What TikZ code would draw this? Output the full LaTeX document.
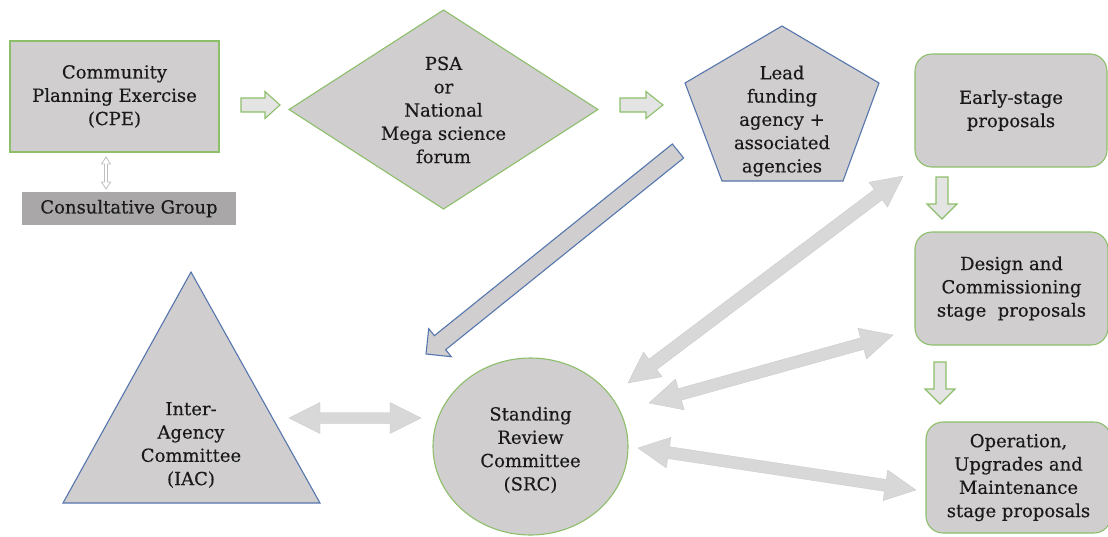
\documentclass[tikz,border=0pt]{standalone}
\usepackage{fontspec}
\setmainfont{DejaVu Serif}
\newfontface\diafont{DejaVu Serif}[FakeBold=0.35]
\usetikzlibrary{shapes.geometric}
\definecolor{boxgray}{HTML}{D0CECE}
\definecolor{cggray}{HTML}{A9A7A7}
\definecolor{arrgray}{HTML}{D8D8D8}
\definecolor{lightfill}{HTML}{E4E4E4}
\definecolor{bordergreen}{HTML}{8DBF6B}
\definecolor{borderblue}{HTML}{5676AE}
\definecolor{txt}{HTML}{1A1A1A}
% #1 style, #2 from, #3 to, #4 half shaft, #5 half head, #6 head length
\newcommand\myarrow[6]{%
  \pgfpointanchor{#2}{center}\pgfgetlastxy\BAxa\BAya
  \pgfpointanchor{#3}{center}\pgfgetlastxy\BAxb\BAyb
  \pgfmathsetmacro\BAa{atan2(\BAyb-\BAya,\BAxb-\BAxa)}%
  \pgfmathsetmacro\BAl{veclen(\BAxb-\BAxa,\BAyb-\BAya)}%
  \begin{scope}[shift={(\BAxa,\BAya)},rotate=\BAa]
    \draw[#1] (0pt,-#4pt) -- (\BAl pt-#6pt,-#4pt) -- (\BAl pt-#6pt,-#5pt) -- (\BAl pt,0pt)
      -- (\BAl pt-#6pt,#5pt) -- (\BAl pt-#6pt,#4pt) -- (0pt,#4pt) -- cycle;
  \end{scope}}
\newcommand\mydarrow[6]{%
  \pgfpointanchor{#2}{center}\pgfgetlastxy\BAxa\BAya
  \pgfpointanchor{#3}{center}\pgfgetlastxy\BAxb\BAyb
  \pgfmathsetmacro\BAa{atan2(\BAyb-\BAya,\BAxb-\BAxa)}%
  \pgfmathsetmacro\BAl{veclen(\BAxb-\BAxa,\BAyb-\BAya)}%
  \begin{scope}[shift={(\BAxa,\BAya)},rotate=\BAa]
    \draw[#1] (0pt,0pt) -- (#6pt,-#5pt) -- (#6pt,-#4pt) -- (\BAl pt-#6pt,-#4pt) -- (\BAl pt-#6pt,-#5pt) -- (\BAl pt,0pt)
      -- (\BAl pt-#6pt,#5pt) -- (\BAl pt-#6pt,#4pt) -- (#6pt,#4pt) -- (#6pt,#5pt) -- cycle;
  \end{scope}}
\tikzset{
  lbl/.style={align=center, text=txt, font=\diafont\fontsize{18}{23.3}\selectfont, inner sep=0pt},
  shp/.style={fill=boxgray, line width=1.1pt},
  gbox/.style={shp, draw=bordergreen, lbl},
  rbox/.style={gbox, rounded corners=17pt},
  greenarr/.style={fill=lightfill, draw=bordergreen, line width=1.1pt, line join=miter},
  grayarr/.style={fill=arrgray, draw=arrgray!92!black, line width=0.3pt},
  bluearr/.style={fill=boxgray, draw=borderblue, line width=1.1pt, line join=miter},
}
\begin{document}
\begin{tikzpicture}[x=1pt,y=-1pt]
\useasboundingbox (0,0) rectangle (1108,536);
% top row
\node[gbox, minimum width=209pt, minimum height=111pt] (cpe) at (114.5,96.5) {Community\\Planning Exercise\\(CPE)};
\node[fill=cggray, lbl, minimum width=214pt, minimum height=33pt] (cg) at (129,208.5) {Consultative Group};
\draw[shp, draw=bordergreen] (289,109.5) -- (443.5,10) -- (598,109.5) -- (443.5,209) -- cycle;
\node[lbl] (psa) at (443.5,110) {PSA\\or\\National\\Mega science\\forum};
\draw[shp, draw=borderblue, line join=miter] (782,26) -- (879,83) -- (843,181) -- (722,181) -- (685,83) -- cycle;
\node[lbl] (lead) at (782,121) {Lead\\funding\\agency +\\associated\\agencies};
\node[rbox, minimum width=192pt, minimum height=113pt] (early) at (1011,110.5) {Early-stage\\proposals};
\node[rbox, minimum width=193pt, minimum height=113pt] (design) at (1011.5,288.5) {Design and\\Commissioning\\stage~~proposals};
\node[rbox, minimum width=185pt, minimum height=111pt] (oper) at (1018.5,477.5) {Operation,\\Upgrades and\\Maintenance\\stage proposals};
% bottom
\draw[shp, draw=borderblue, line join=miter] (191,272) -- (320,503) -- (63,503) -- cycle;
\node[lbl] (iac) at (191,445) {Inter-\\Agency\\Committee\\(IAC)};
\node[ellipse, shp, draw=bordergreen, minimum width=195pt, minimum height=177pt] (srcshape) at (530.5,446.5) {};
\node[lbl] (src) at (530.5,450) {Standing\\Review\\Committee\\(SRC)};
% arrow end coordinates
\coordinate (c1a) at (106,157); \coordinate (c1b) at (106,189);
\coordinate (g1a) at (241,105); \coordinate (g1b) at (280,105);
\coordinate (g2a) at (620,105); \coordinate (g2b) at (663,105);
\coordinate (g3a) at (942,177); \coordinate (g3b) at (942,219);
\coordinate (g4a) at (940,362); \coordinate (g4b) at (940,404);
\coordinate (b1a) at (678,151); \coordinate (b1b) at (426,354);
\coordinate (d1a) at (289,418); \coordinate (d1b) at (421,418);
\coordinate (d2a) at (628,383); \coordinate (d2b) at (903,176);
\coordinate (d3a) at (649,403); \coordinate (d3b) at (893,335);
\coordinate (d4a) at (638,448); \coordinate (d4b) at (916,490);
% arrows
\mydarrow{fill=white, draw=black!25, line width=0.8pt}{c1a}{c1b}{1.5}{4.5}{7}
\myarrow{greenarr}{g1a}{g1b}{7}{13.5}{15}
\myarrow{greenarr}{g2a}{g2b}{7}{13.5}{17}
\myarrow{greenarr}{g3a}{g3b}{6}{15}{15}
\myarrow{greenarr}{g4a}{g4b}{6}{15}{15}
\myarrow{bluearr}{b1a}{b1b}{9}{18}{18}
\mydarrow{grayarr}{d1a}{d1b}{5.5}{15.5}{31}
\mydarrow{grayarr}{d2a}{d2b}{6.5}{15.5}{31}
\mydarrow{grayarr}{d3a}{d3b}{6}{16}{32}
\mydarrow{grayarr}{d4a}{d4b}{6}{15.5}{31}
\end{tikzpicture}
\end{document}
